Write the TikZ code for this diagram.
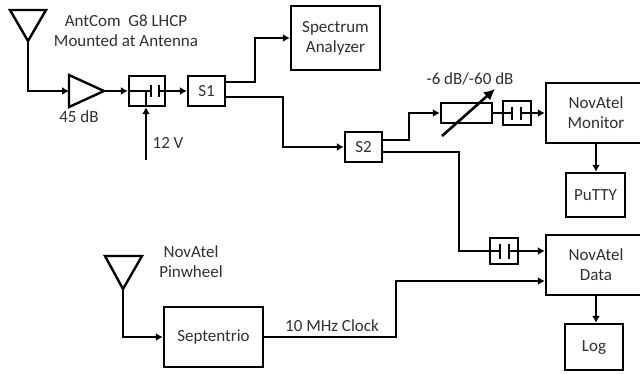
\documentclass[tikz,border=0pt]{standalone}
\usepackage{fontspec}
\setmainfont{Carlito}
\usetikzlibrary{arrows.meta}
\definecolor{txt}{HTML}{303030}
\tikzset{
  x=1pt,y=-1pt,
  every node/.style={font=\fontsize{17}{20}\selectfont,text=txt},
  box/.style={draw=black,line width=2.4pt,fill=white,inner sep=0pt},
  wire/.style={draw=black,line width=2.4pt},
  arr/.style={wire,-{Latex[length=7pt,width=8pt]}},
  lbl/.style={align=center,inner sep=0pt},
  plate/.style={draw=black,line width=2.6pt},
}
\newcommand{\bx}[6]{\node[box,align=center,minimum width=#4pt,minimum height=#5pt] (#1) at (#2,#3) {#6};}
\begin{document}
\begin{tikzpicture}
\useasboundingbox (0,0) rectangle (640,373);
% boxes
\bx{tee}{147}{91}{36}{30}{}
\bx{sa}{206.5}{91}{37}{30}{S1}
\bx{spec}{335.5}{38}{89}{64}{Spectrum\\Analyzer}
\bx{s2}{363.5}{147}{37}{30}{S2}
\bx{att}{466.5}{113}{51}{20}{}
\bx{dc1}{517}{113}{28}{24}{}
\bx{mon}{596}{113}{100}{60}{NovAtel\\Monitor}
\bx{putty}{595.5}{195}{59}{44}{PuTTY}
\bx{dc2}{504}{251}{28}{26}{}
\bx{data}{596}{265}{100}{60}{NovAtel\\Data}
\bx{logb}{594}{347}{58}{46}{Log}
\bx{sep}{213.5}{337}{99}{60}{Septentrio}
% antenna 1
\coordinate (a1) at (28,41);
\draw[wire,line join=miter] (10,10) -- (46,10) -- (a1) -- cycle;
\coordinate (a1k) at (28,91);
% amplifier
\coordinate (ampin) at (69,91);
\coordinate (ampout) at (104,91);
\draw[wire] (69,75) -- (ampout) -- (69,107) -- cycle;
\draw[arr] (a1) -- (a1k) -- (ampin);
\draw[arr] (ampout) -- (tee.west);
% bias tee
\coordinate (p1) at (151,91);
\coordinate (p2) at (159,91);
\draw[wire] (tee.west) -- (p1);
\draw[plate] (151,85) -- (151,97);
\draw[plate] (159,85) -- (159,97);
\coordinate (v12) at (146,160);
\draw[arr] (v12) -- (tee.south -| v12);
\draw[wire] (tee.south -| v12) -- (146,91);
\draw[arr] (p2) -- (sa.west);
% S1
\draw[arr] ([yshift=9pt]sa.east) -- (255,82) -- (255,38) -- (spec.west);
\draw[arr] ([yshift=-6pt]sa.east) -- (283,97) -- (283,147) -- (s2.west);
% S2
\draw[arr] ([yshift=7pt]s2.east) -- (409,140) -- (409,113) -- (att.west);
\draw[wire] (att.east) -- (512,113);
\draw[plate] (512,106.5) -- (512,119.5);
\draw[plate] (521,106.5) -- (521,119.5);
\draw[arr] (521,113) -- (mon.west);
\draw[line width=2.6pt,-{Latex[length=11pt,width=11pt]}] (442,136) -- (495,89);
\draw[wire] ([yshift=-5pt]s2.east) -- (459,152) -- (459,251) -- (500,251);
\draw[plate] (500,243.5) -- (500,258.5);
\draw[plate] (509,243.5) -- (509,258.5);
\draw[arr] (509,251) -- (data.west |- 0,251);
\draw[arr] (mon.south) -- (putty.north -| mon.south);
\draw[arr] (data.south) -- (logb.north -| data.south);
% antenna 2
\coordinate (a2) at (123,289);
\draw[wire,line join=miter] (105,256) -- (142,256) -- (a2) -- cycle;
\draw[arr] (a2) -- (123,337) -- (sep.west);
\draw[arr] (sep.east) -- (396,337) -- (396,281) -- (data.west |- 0,281);
% labels
\node[lbl] (l1) at (126,31) {AntCom\ \ G8 LHCP\\Mounted at Antenna};
\node[lbl] (l2) at (79,117) {45 dB};
\node[lbl] (l3) at (168,143) {12 V};
\node[lbl] (l4) at (470,79) {-6 dB/-60 dB};
\node[lbl] (l5) at (191,262) {NovAtel\\Pinwheel};
\node[lbl] (l6) at (332,326) {10 MHz Clock};
\end{tikzpicture}
\end{document}
